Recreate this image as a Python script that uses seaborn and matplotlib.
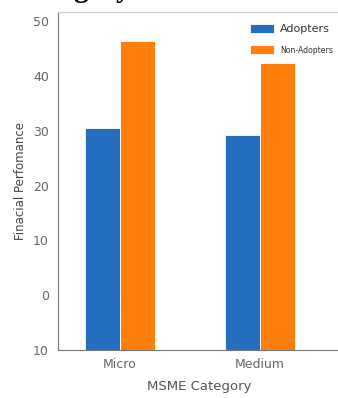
import matplotlib
matplotlib.use("Agg")
import matplotlib.pyplot as plt
import pandas as pd
import seaborn as sns

# data
categories = ["Micro", "Medium"]
groups = ["Adopters", "Non-Adopters"]
adopters = [30.5, 29.3]
non_adopters = [46.4, 42.3]
yticks = [-10, 0, 10, 20, 30, 40, 50]
ytick_labels = ["10", "0", "10", "20", "30", "40", "50"]
baseline = -10

df = pd.DataFrame({
    "MSME Category": categories * 2,
    "Group": [groups[0]] * 2 + [groups[1]] * 2,
    "Value": adopters + non_adopters,
})

sns.set_style("white")
plt.rcParams['font.family'] = ['DejaVu Sans']

fig = plt.figure(figsize=(3.38, 3.98), dpi=100)
ax = fig.add_axes([58 / 338, 48 / 398, 282 / 338, 338 / 398])

sns.barplot(data=df, x="MSME Category", y="Value", hue="Group",
            palette=["#236ebf", "#ff7f0e"], saturation=1, width=0.5,
            edgecolor="white", linewidth=0.6, ax=ax)

# bars in the reference start from the bottom of the axis
for p in ax.patches:
    h = p.get_height()
    p.set_y(baseline)
    p.set_height(h - baseline)

ax.set_xlim(-0.44, 1.574)
ax.set_ylim(-10, 51.7)
ax.set_yticks(yticks)
ax.set_yticklabels(ytick_labels)

ax.set_xlabel("MSME Category", fontsize=9.5, color="#555555", labelpad=6)
ax.set_ylabel("Finacial Perfomance", fontsize=8.5, color="#444444", labelpad=4)
ax.tick_params(axis="both", labelsize=9, colors="#666666", length=3, width=0.6)
ax.tick_params(axis="x", length=0, pad=6)

for side in ["left", "bottom"]:
    ax.spines[side].set_color("#777777")
    ax.spines[side].set_linewidth(0.8)
ax.spines["top"].set_color("#cccccc")
ax.spines["top"].set_linewidth(0.8)
ax.spines["right"].set_visible(False)

leg = ax.legend(loc="upper left", bbox_to_anchor=(240 / 338, 1 - 14 / 398),
                bbox_transform=fig.transFigure, frameon=False, fontsize=8,
                handlelength=2.2, handleheight=0.8, labelspacing=1.0,
                handletextpad=0.5)
texts = leg.get_texts()
texts[0].set_color("#333333")
texts[1].set_color("#333333")
texts[1].set_fontsize(5.6)

# cropped heading from the page above the chart
fig.text(17 / 338, 1 + 3 / 398, "Category", fontfamily="Liberation Serif",
         fontweight="bold", fontsize=21, va="baseline", color="black")

fig.savefig("out.png", dpi=100)
